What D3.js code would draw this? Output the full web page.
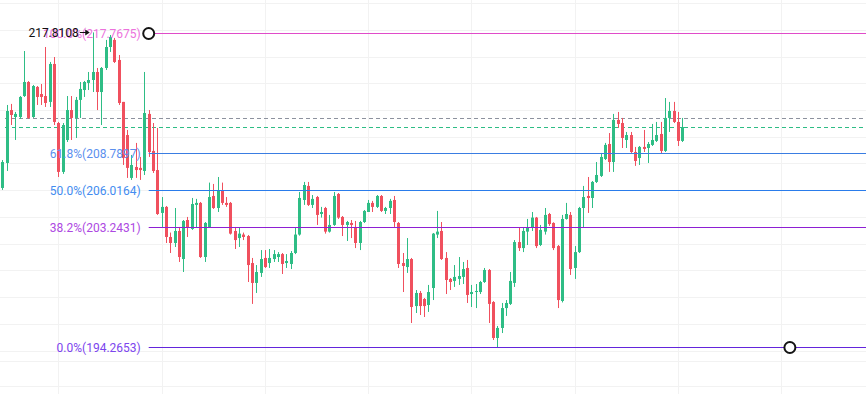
<!DOCTYPE html>
<html>
<head>
<meta charset="utf-8">
<script src="https://cdn.jsdelivr.net/npm/d3@7"></script>
<style>
  body { margin: 0; background: #fff; }
  svg { display: block; font-family: Roboto, sans-serif; }
</style>
</head>
<body>
<script>
// hourly candles
const opens = [
  206.17, 208.04, 212.00, 211.48, 211.48, 213.05, 214.10, 211.48, 213.73, 213.20,
  213.05, 212.61, 215.45, 211.03, 207.37, 209.76, 212.00, 211.41, 212.76, 213.50,
  214.03, 214.25, 214.85, 213.35, 215.15, 216.72, 217.25, 215.75, 212.61, 210.13,
  206.92, 207.74, 207.67, 207.44, 211.71, 208.94, 207.51, 204.30, 204.75, 202.50,
  202.05, 202.95, 200.85, 203.77, 203.10, 204.90, 205.05, 201.00, 203.25, 205.57,
  204.67, 205.94, 205.05, 205.05, 202.95, 202.42, 202.68, 202.57, 200.55, 199.06,
  199.81, 200.93, 200.55, 200.85, 201.00, 201.22, 200.55, 200.48, 201.30, 202.68,
  205.27, 206.32, 204.90, 205.49, 204.22, 204.67, 202.90, 203.40, 205.72, 204.00,
  203.40, 203.55, 203.25, 202.05, 203.62, 204.37, 205.05, 204.75, 205.57, 204.45,
  204.67, 205.27, 203.55, 200.55, 200.25, 200.85, 197.33, 198.31, 197.86, 197.41,
  198.68, 202.68, 202.95, 200.93, 199.36, 199.21, 199.36, 199.51, 200.18, 198.23,
  198.38, 198.38, 199.13, 200.03, 197.63, 194.94, 195.69, 197.18, 197.49, 199.06,
  202.12, 201.67, 202.90, 203.18, 203.95, 201.90, 202.90, 204.22, 203.55, 201.82,
  197.71, 203.85, 204.15, 200.18, 201.37, 204.67, 205.57, 205.42, 206.62, 207.07,
  208.34, 209.46, 208.11, 211.26, 211.03, 209.76, 210.13, 208.86, 208.41, 209.24,
  209.16, 209.39, 209.69, 210.21, 208.94, 211.41, 211.93, 211.11, 209.69
];
const highs = [
  208.26, 212.38, 212.46, 211.86, 213.05, 216.42, 214.17, 213.88, 213.80, 213.95,
  216.72, 215.60, 215.97, 211.11, 211.03, 213.05, 213.05, 212.98, 214.10, 214.18,
  214.85, 217.8108, 215.15, 215.22, 217.25, 217.62, 217.40, 216.12, 212.61, 210.51,
  208.64, 209.54, 208.49, 214.85, 212.00, 211.03, 210.66, 205.49, 204.82, 202.83,
  204.67, 203.25, 203.77, 204.00, 205.42, 205.35, 205.12, 203.62, 206.57, 206.47,
  206.99, 206.57, 205.49, 205.12, 203.25, 203.18, 202.83, 202.65, 200.93, 200.40,
  201.52, 201.52, 201.60, 201.52, 201.37, 201.30, 201.22, 201.45, 203.18, 205.87,
  206.62, 206.62, 205.64, 205.57, 204.75, 204.75, 204.15, 205.87, 205.79, 204.07,
  203.70, 203.77, 203.70, 203.70, 204.52, 205.27, 205.20, 205.64, 205.64, 204.75,
  205.35, 205.57, 203.62, 201.30, 202.42, 200.93, 198.53, 198.46, 197.93, 198.91,
  202.80, 204.45, 203.62, 201.37, 199.43, 200.40, 201.00, 200.63, 200.78, 198.91,
  198.98, 199.21, 200.18, 200.10, 197.70, 195.84, 197.56, 197.78, 199.88, 202.27,
  203.18, 203.18, 203.85, 204.37, 204.00, 203.40, 204.67, 204.30, 203.60, 201.90,
  204.15, 205.05, 204.37, 201.82, 204.75, 206.32, 206.99, 206.69, 208.11, 208.79,
  209.54, 210.28, 211.71, 211.86, 211.41, 210.36, 210.36, 209.24, 209.31, 210.51,
  209.61, 210.96, 211.11, 211.11, 212.90, 212.61, 212.61, 211.86, 211.41
];
const lows = [
  206.02, 207.44, 210.88, 209.76, 211.33, 212.98, 211.33, 211.41, 212.38, 212.38,
  212.23, 212.23, 210.88, 206.99, 207.22, 209.61, 209.76, 209.91, 211.41, 212.98,
  213.50, 213.35, 212.00, 210.88, 215.00, 216.35, 215.52, 212.38, 207.89, 206.92,
  206.77, 206.92, 206.77, 207.14, 208.49, 207.29, 204.15, 203.25, 202.05, 201.30,
  201.75, 200.63, 199.88, 202.50, 203.03, 203.18, 200.93, 200.63, 203.18, 204.60,
  204.37, 204.90, 204.75, 202.68, 201.60, 201.75, 202.27, 199.13, 197.49, 198.31,
  199.51, 200.18, 200.18, 200.63, 200.63, 199.73, 200.18, 200.10, 201.22, 202.60,
  204.90, 204.82, 204.67, 203.40, 203.95, 202.75, 202.83, 203.33, 203.85, 202.57,
  202.20, 202.42, 201.67, 201.52, 203.55, 204.37, 204.37, 204.67, 204.37, 204.22,
  204.22, 203.25, 200.18, 198.38, 199.81, 196.06, 196.81, 196.66, 196.51, 196.89,
  197.78, 202.42, 200.78, 198.23, 198.53, 198.76, 198.91, 198.98, 197.56, 197.26,
  197.18, 198.23, 199.06, 196.06, 194.79, 194.2653, 195.31, 196.59, 197.41, 198.76,
  201.45, 201.37, 201.90, 202.95, 201.67, 201.82, 202.68, 203.33, 201.52, 197.18,
  197.60, 203.80, 199.66, 199.36, 201.30, 203.25, 204.30, 204.67, 206.54, 206.99,
  208.26, 207.37, 207.37, 210.66, 209.16, 209.16, 208.79, 207.82, 207.89, 208.86,
  208.04, 209.31, 209.61, 208.71, 208.86, 210.36, 211.03, 209.31, 209.61
];
const closes = [
  208.11, 211.93, 211.63, 211.71, 212.98, 214.10, 211.41, 213.80, 212.98, 212.98,
  212.53, 215.45, 211.11, 207.37, 210.88, 212.00, 211.41, 212.76, 213.58, 214.10,
  214.25, 214.85, 213.35, 215.15, 216.72, 217.47, 215.60, 212.53, 208.41, 207.67,
  207.89, 207.51, 207.51, 211.78, 208.86, 207.44, 204.22, 204.75, 202.50, 202.05,
  202.95, 201.00, 203.70, 203.18, 204.97, 205.05, 201.00, 203.55, 205.49, 204.67,
  205.94, 205.05, 204.90, 202.75, 202.27, 202.75, 202.50, 200.40, 199.06, 199.88,
  200.85, 200.25, 200.93, 201.22, 201.22, 200.48, 200.70, 201.30, 202.68, 205.42,
  206.39, 204.90, 205.35, 204.15, 204.37, 202.90, 203.40, 205.57, 203.95, 203.40,
  203.62, 203.40, 202.05, 203.62, 204.45, 205.05, 204.75, 205.57, 204.45, 204.67,
  205.20, 203.62, 200.48, 200.33, 200.85, 197.26, 198.31, 197.33, 197.33, 198.38,
  202.75, 202.90, 200.85, 199.28, 199.13, 199.51, 199.58, 200.10, 198.16, 198.38,
  198.46, 199.13, 200.03, 197.49, 194.94, 195.69, 197.18, 197.56, 199.21, 202.12,
  201.67, 202.95, 203.18, 203.95, 201.82, 203.03, 204.15, 203.47, 201.67, 197.78,
  203.85, 204.22, 200.10, 201.37, 204.67, 205.49, 205.42, 206.62, 207.14, 208.49,
  209.39, 208.11, 211.26, 210.96, 209.91, 210.13, 208.86, 208.19, 209.24, 209.09,
  209.46, 209.76, 210.13, 208.94, 211.41, 211.93, 211.11, 209.69, 210.73
];

// fibonacci retracement between the two anchors
const fibLevels = ["100.0%", "61.8%", "50.0%", "38.2%", "0.0%"];
const fibPrices = [217.7675, 208.7897, 206.0164, 203.2431, 194.2653];
const fibAnchors = [34, 183];              // candle index of the two handles
const highIndex = 21;                      // candle carrying the max high
const lastPrice = 210.73;
const refPrice = 211.41;
const priceGrid = [194, 196, 198, 200, 202, 204, 206, 208, 210, 212, 214, 216, 218, 220];
const dayTicks = [13, 37, 61, 85, 109, 133, 157, 181];

const fibColors = ["#e04cc9", "#3a7de2", "#2a7ceb", "#8e1fd3", "#6325dc"];
const fibTextColors = ["#ec72dc", "#5b8fee", "#438cf0", "#ad48e2", "#7c45ee"];
const upColor = "#2ebd85", downColor = "#f0505e";

// snap to the pixel grid so 1px lines stay crisp
const px = v => Math.round(v) + 0.5;

function go() {
    const width = 866, height = 394;

    const x = d3.scaleLinear().domain([0, 157]).range([2.4, 678]);
    const y = d3.scaleLinear()
        .domain([fibPrices[0], fibPrices[4]])
        .range([33, 347]);

    const svg = d3.select("body").append("svg")
        .attr("width", width)
        .attr("height", height);

    svg.append("rect")
        .attr("width", width)
        .attr("height", height)
        .attr("fill", "#fff");

    // grid
    const grid = svg.append("g")
        .attr("stroke", "#f2f2f2")
        .attr("stroke-width", 1);

    grid.selectAll(".hgrid")
        .data(priceGrid)
        .enter().append("line")
        .attr("x1", 0).attr("x2", width)
        .attr("y1", d => px(y(d)))
        .attr("y2", d => px(y(d)));

    grid.selectAll(".vgrid")
        .data(dayTicks)
        .enter().append("line")
        .attr("y1", 0).attr("y2", height)
        .attr("x1", d => px(x(d)))
        .attr("x2", d => px(x(d)));

    grid.selectAll(".bgrid")
        .data([361, 386])
        .enter().append("line")
        .attr("x1", 0).attr("x2", width)
        .attr("y1", d => d + 0.5).attr("y2", d => d + 0.5);

    // price lines
    svg.append("line")
        .attr("x1", 5).attr("x2", width)
        .attr("y1", px(y(refPrice))).attr("y2", px(y(refPrice)))
        .attr("stroke", "#8d929e")
        .attr("stroke-dasharray", "4,3");

    svg.append("line")
        .attr("x1", 5).attr("x2", width)
        .attr("y1", px(y(lastPrice))).attr("y2", px(y(lastPrice)))
        .attr("stroke", upColor)
        .attr("stroke-dasharray", "4,3");

    // candles
    const candles = closes.map(function(c, i) {
        return {i: i, o: opens[i], h: highs[i], l: lows[i], c: c};
    });

    const cg = svg.append("g")
        .selectAll("g")
        .data(candles)
        .enter().append("g")
        .attr("fill", d => d.c >= d.o ? upColor : downColor)
        .attr("stroke", d => d.c >= d.o ? upColor : downColor);

    cg.append("line")
        .attr("x1", d => px(x(d.i))).attr("x2", d => px(x(d.i)))
        .attr("y1", d => y(d.h)).attr("y2", d => y(d.l))
        .attr("stroke-width", 1);

    cg.append("rect")
        .attr("stroke", "none")
        .attr("x", d => Math.round(x(d.i)) - 1)
        .attr("width", 3)
        .attr("y", d => y(Math.max(d.o, d.c)))
        .attr("height", d => Math.max(1, Math.abs(y(d.o) - y(d.c))));

    // fib levels
    const x0 = x(fibAnchors[0]);
    const fib = svg.append("g");

    fib.selectAll("line")
        .data(fibPrices)
        .enter().append("line")
        .attr("x1", x0).attr("x2", width)
        .attr("y1", d => px(y(d))).attr("y2", d => px(y(d)))
        .attr("stroke", (d, i) => fibColors[i])
        .attr("stroke-width", 1);

    fib.selectAll("text")
        .data(fibPrices)
        .enter().append("text")
        .attr("x", x0 - 8)
        .attr("y", d => px(y(d)))
        .attr("dy", "0.35em")
        .attr("text-anchor", "end")
        .attr("font-size", 12)
        .attr("fill", (d, i) => fibTextColors[i])
        .text((d, i) => fibLevels[i] + "(" + d.toFixed(4) + ")");

    // max high marker
    const hx = x(highIndex), hy = px(y(highs[highIndex]));
    svg.append("text")
        .attr("x", hx - 14)
        .attr("y", hy)
        .attr("dy", "0.35em")
        .attr("text-anchor", "end")
        .attr("font-size", 12)
        .attr("fill", "#111")
        .text(highs[highIndex].toFixed(4));
    svg.append("line")
        .attr("x1", hx - 13).attr("x2", hx - 5)
        .attr("y1", hy).attr("y2", hy)
        .attr("stroke", "#111");
    svg.append("path")
        .attr("d", "M" + (hx - 3) + "," + hy + "l-4.5,-3v6z")
        .attr("fill", "#111");

    // handles
    svg.selectAll(".handle")
        .data([[fibAnchors[0], fibPrices[0]], [fibAnchors[1], fibPrices[4]]])
        .enter().append("circle")
        .attr("cx", d => x(d[0]))
        .attr("cy", d => px(y(d[1])))
        .attr("r", 5.5)
        .attr("fill", "#fff")
        .attr("stroke", "#141414")
        .attr("stroke-width", 2);
}

window.onload = function() {
    go();
}
</script>
</body>
</html>
